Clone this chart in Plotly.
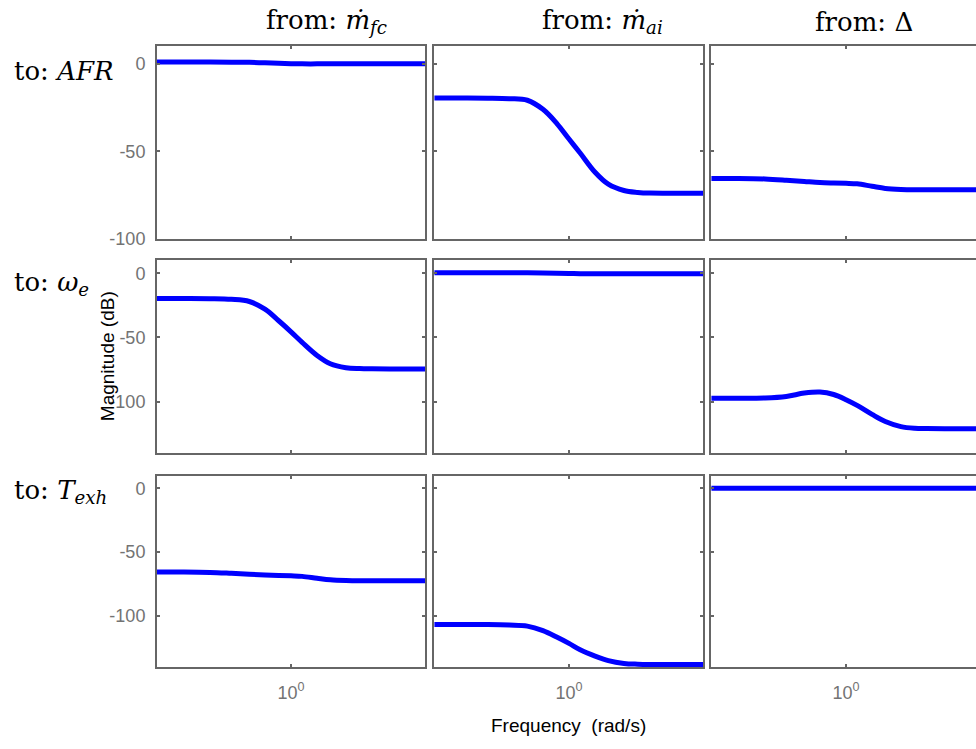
import plotly.graph_objects as go

# ---- data ----
freq = [0.316, 0.4, 0.5, 0.6, 0.7, 0.8, 0.9, 1.0, 1.1, 1.25, 1.4, 1.6, 1.8, 2.0, 2.5, 3.16]

afr_from_mfc = [1.0, 1.0, 1.0, 0.95, 0.85, 0.6, 0.3, 0.1, 0.0, 0.0, 0.0, 0.0, 0.0, 0.0, 0.0, 0.0]
afr_from_mai = [-19.5, -19.5, -19.6, -19.9, -20.8, -26.0, -34.0, -43.0, -51.0, -62.0, -68.8, -72.4, -73.5, -73.9, -74.0, -74.0]
afr_from_delta = [-65.5, -65.5, -65.8, -66.5, -67.2, -67.8, -68.1, -68.3, -68.6, -70.0, -71.2, -71.8, -72.0, -72.0, -72.0, -72.0]

we_from_mfc = [-19.7, -19.7, -19.8, -20.3, -22.0, -28.0, -37.0, -45.6, -53.8, -64.0, -70.5, -73.6, -74.3, -74.5, -74.6, -74.6]
we_from_mai = [0.5, 0.5, 0.5, 0.45, 0.35, 0.2, 0.0, -0.2, -0.3, -0.3, -0.3, -0.3, -0.3, -0.3, -0.3, -0.3]
we_from_delta = [-97.4, -97.4, -97.2, -96.0, -93.4, -92.6, -94.5, -98.5, -103.0, -110.0, -115.5, -119.5, -120.8, -121.0, -121.2, -121.2]

texh_from_mfc = [-65.6, -65.6, -65.9, -66.6, -67.3, -67.9, -68.3, -68.6, -69.0, -70.5, -71.7, -72.3, -72.5, -72.5, -72.5, -72.5]
texh_from_mai = [-106.7, -106.7, -106.8, -107.2, -108.0, -111.5, -116.5, -121.5, -126.5, -131.5, -135.0, -137.2, -137.8, -138.0, -138.1, -138.1]
texh_from_delta = [0.0] * 16

col_titles = ["from: <i>ṁ</i><sub><i>fc</i></sub>", "from: <i>ṁ</i><sub><i>ai</i></sub>", "from: Δ"]
row_titles = ["to: <i>AFR</i>", "to: <i>ω</i><sub><i>e</i></sub>", "to: <i>T</i><sub><i>exh</i></sub>"]
y_ranges = [[-100, 10], [-140, 10], [-140, 10]]
y_ticks = [0, -50, -100]
y_tick_text = ["0", "-50", "-100"]
x_tick_vals = [1]
x_tick_text = ["10<sup>0</sup>"]

grid = [
    [afr_from_mfc, afr_from_mai, afr_from_delta],
    [we_from_mfc, we_from_mai, we_from_delta],
    [texh_from_mfc, texh_from_mai, texh_from_delta],
]

# ---- layout geometry ----
W, H = 976, 749
col_px = [(157, 425), (434, 703), (711, 976)]
row_px = [(47, 242), (264, 459), (482, 676)]
col_center_px = [291, 569, 846]
DEC_PX = 269.0
LINE = "#666666"
TICKC = "#737373"
SERIF = "DejaVu Serif, Liberation Serif, serif"
SANS = "Liberation Sans, Arial, sans-serif"

fig = go.Figure()
layout = {}
k = 0
for r in range(3):
    for c in range(3):
        k += 1
        xa = "x" if k == 1 else f"x{k}"
        ya = "y" if k == 1 else f"y{k}"
        fig.add_trace(go.Scatter(
            x=freq, y=grid[r][c], mode="lines", xaxis=xa, yaxis=ya,
            line=dict(color="#0000ff", width=5, shape="spline", smoothing=1.0),
            showlegend=False, hoverinfo="x+y"))
        x0, x1 = col_px[c]
        y0, y1 = row_px[r]
        lo = (x0 - col_center_px[c]) / DEC_PX
        hi = (x1 - col_center_px[c]) / DEC_PX
        layout["xaxis" if k == 1 else f"xaxis{k}"] = dict(
            type="log", domain=[x0 / W, x1 / W], range=[lo, hi],
            anchor=ya, showline=True, linecolor=LINE, linewidth=2, mirror="allticks",
            ticks="inside", ticklen=3, tickwidth=1.5, tickcolor=LINE,
            tickvals=x_tick_vals, ticktext=x_tick_text,
            showticklabels=(r == 2), showgrid=False, zeroline=False,
            tickfont=dict(family=SANS, size=18, color=TICKC), ticklabelstandoff=8)
        layout["yaxis" if k == 1 else f"yaxis{k}"] = dict(
            domain=[1 - y1 / H, 1 - y0 / H], range=y_ranges[r],
            anchor=xa, showline=True, linecolor=LINE, linewidth=2,
            mirror=("allticks" if c < 2 else False),
            ticks="inside", ticklen=3, tickwidth=1.5, tickcolor=LINE,
            tickvals=y_ticks, ticktext=y_tick_text,
            showticklabels=(c == 0), showgrid=False, zeroline=False,
            tickfont=dict(family=SANS, size=18, color=TICKC), ticklabelstandoff=6)

annotations = []
title_cx = [326, 602, 864]
for c in range(3):
    annotations.append(dict(
        x=title_cx[c] / W, y=1 - 22 / H,
        xref="paper", yref="paper", text=col_titles[c], showarrow=False,
        font=dict(family=SERIF, size=26, color="black"), xanchor="center", yanchor="middle"))
row_label_y = [72, 287, 498]
for r in range(3):
    annotations.append(dict(
        x=12 / W, y=1 - row_label_y[r] / H, xref="paper", yref="paper",
        text=row_titles[r], showarrow=False,
        font=dict(family=SERIF, size=26, color="black"), xanchor="left", yanchor="middle"))
annotations.append(dict(
    x=107 / W, y=1 - 361 / H, xref="paper", yref="paper", text="Magnitude (dB)",
    showarrow=False, textangle=-90, font=dict(family=SANS, size=19, color="black"),
    xanchor="center", yanchor="middle"))
annotations.append(dict(
    x=568 / W, y=1 - 735 / H, xref="paper", yref="paper", text="Frequency  (rad/s)",
    showarrow=False, font=dict(family=SANS, size=19, color="black"),
    xanchor="center", yanchor="middle"))

fig.update_layout(
    width=W, height=H, margin=dict(l=0, r=0, t=0, b=0),
    paper_bgcolor="white", plot_bgcolor="white",
    annotations=annotations, **layout)

fig.write_html("out.html")
